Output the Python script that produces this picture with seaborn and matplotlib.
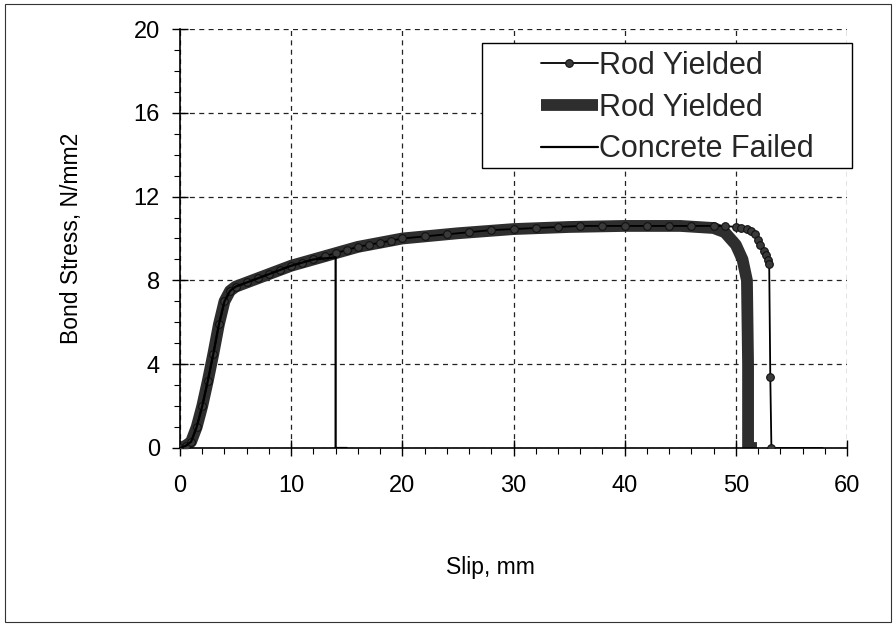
import matplotlib
matplotlib.use("Agg")
import matplotlib.pyplot as plt
import seaborn as sns
import pandas as pd
from matplotlib.patches import Rectangle
from matplotlib.ticker import MultipleLocator

sns.set_theme(style="ticks")
plt.rcParams["font.family"] = ["Liberation Sans", "DejaVu Sans"]

# ---------------- data ----------------
rod1_label = "Rod Yielded"
rod1_slip = [0, 0.5, 1, 1.5, 2, 2.5, 3, 3.5, 4, 4.5, 5, 6, 7, 8, 9, 10, 11, 12, 13, 14,
             15, 16, 17, 18, 19, 20, 22, 24, 26, 28, 30, 32, 34, 36, 38, 40, 42, 44, 46,
             48, 49, 50, 50.5, 51, 51.4, 51.7, 52.0, 52.2, 52.5, 52.7, 52.9, 53.0, 53.1,
             53.2, 57.8]
rod1_stress = [0, 0.1, 0.3, 1.0, 2.0, 3.2, 4.5, 5.9, 7.0, 7.5, 7.7, 7.9, 8.1, 8.3, 8.5, 8.7,
               8.85, 9.0, 9.15, 9.3, 9.45, 9.6, 9.7, 9.8, 9.9, 10.0, 10.1, 10.2, 10.3, 10.4,
               10.45, 10.5, 10.55, 10.6, 10.6, 10.6, 10.6, 10.6, 10.6, 10.6, 10.6, 10.55,
               10.5, 10.45, 10.35, 10.2, 9.95, 9.7, 9.4, 9.2, 8.95, 8.8, 3.4, 0, 0]

rod2_label = "Rod Yielded"
rod2_slip = [0, 0.5, 1, 1.5, 2, 2.5, 3, 3.5, 4, 4.5, 5, 6, 8, 10, 12, 14, 16, 18, 20, 25,
             30, 35, 40, 45, 48, 49, 50, 50.6, 51.0, 51.1, 51.1, 51.9]
rod2_stress = [0, 0.1, 0.3, 1.0, 2.0, 3.2, 4.5, 5.9, 7.0, 7.5, 7.7, 7.9, 8.3, 8.7, 9.0, 9.3,
               9.6, 9.8, 10.0, 10.25, 10.45, 10.55, 10.6, 10.6, 10.5, 10.3, 9.7, 9.0, 8.0,
               4.0, 0, 0]

conc_label = "Concrete Failed"
conc_slip = [0, 0.5, 1, 1.5, 2, 2.5, 3, 3.5, 4, 4.5, 5, 6, 8, 10, 12, 14, 14, 15]
conc_stress = [0, 0.1, 0.3, 1.0, 2.0, 3.2, 4.5, 5.9, 7.0, 7.5, 7.7, 7.9, 8.3, 8.7, 9.0, 9.1,
               0, 0]

x_ticks = [0, 10, 20, 30, 40, 50, 60]
y_ticks = [0, 4, 8, 12, 16, 20]
x_label = "Slip, mm"
y_label = "Bond Stress, N/mm2"

# ---------------- figure ----------------
W, H = 894, 624
fig = plt.figure(figsize=(W / 100, H / 100), dpi=100)
ax = fig.add_axes([180 / W, 1 - 448 / H, 667 / W, 419 / H])

df1 = pd.DataFrame({"slip": rod1_slip, "stress": rod1_stress})
df2 = pd.DataFrame({"slip": rod2_slip, "stress": rod2_stress})
df3 = pd.DataFrame({"slip": conc_slip, "stress": conc_stress})

sns.lineplot(data=df1, x="slip", y="stress", sort=False, estimator=None, ax=ax,
             color="black", linewidth=1.3, marker="o", markersize=5.5,
             markerfacecolor="#3a3a3a", markeredgecolor="#111111", markeredgewidth=0.8,
             markevery=list(range(len(rod1_slip) - 1)),
             label=rod1_label, zorder=3)
sns.lineplot(data=df2, x="slip", y="stress", sort=False, estimator=None, ax=ax,
             color="#2e2e2e", linewidth=8.5, solid_capstyle="butt",
             label=rod2_label, zorder=2)
sns.lineplot(data=df3, x="slip", y="stress", sort=False, estimator=None, ax=ax,
             color="black", linewidth=1.6, label=conc_label, zorder=4)

ax.set_xlim(0, 60)
ax.set_ylim(0, 20)
ax.set_xticks(x_ticks)
ax.set_yticks(y_ticks)
ax.xaxis.set_minor_locator(MultipleLocator(2))
ax.yaxis.set_minor_locator(MultipleLocator(1))

ax.grid(True, which="major", color="#222222", linestyle=(0, (4, 3.5)), linewidth=0.9)
ax.set_axisbelow(True)

for s in ["top", "right"]:
    ax.spines[s].set_visible(False)
for s in ["left", "bottom"]:
    ax.spines[s].set_color("black")
    ax.spines[s].set_linewidth(1.2)

ax.tick_params(axis="both", which="major", direction="inout", length=11, width=1,
               color="black", labelsize=17, labelcolor="black")
ax.tick_params(axis="x", which="major", pad=14)
ax.tick_params(axis="y", which="major", pad=9)
ax.tick_params(axis="both", which="minor", direction="out", length=4, width=0.8,
               color="black")

ax.set_xlabel(x_label, fontsize=16.5, color="black")
ax.set_ylabel(y_label, fontsize=16.5, color="black")
ax.xaxis.set_label_coords(0.466, -0.258)
ax.yaxis.set_label_coords(-0.145, 0.5)

# legend
handles, labels = ax.get_legend_handles_labels()
if ax.get_legend() is not None:
    ax.get_legend().remove()
leg = ax.legend(handles, labels, loc="upper left",
                bbox_to_anchor=(541 / W, 1 - 51 / H), bbox_transform=fig.transFigure,
                frameon=False, fontsize=22, borderpad=0, borderaxespad=0,
                handlelength=1.85, handletextpad=0.05, labelspacing=0.38)
leg.set_zorder(6)
frame = Rectangle((482 / W, 1 - 168 / H), 370 / W, 125 / H, transform=fig.transFigure,
                  facecolor="white", edgecolor="black", linewidth=1.0, clip_on=False,
                  zorder=5)
ax.add_patch(frame)

# outer border
border = Rectangle((5 / W, 2 / H), 886 / W, 618 / H, transform=fig.transFigure,
                   fill=False, edgecolor="#333333", linewidth=0.8)
fig.patches.append(border)

fig.savefig("out.png", dpi=100)
